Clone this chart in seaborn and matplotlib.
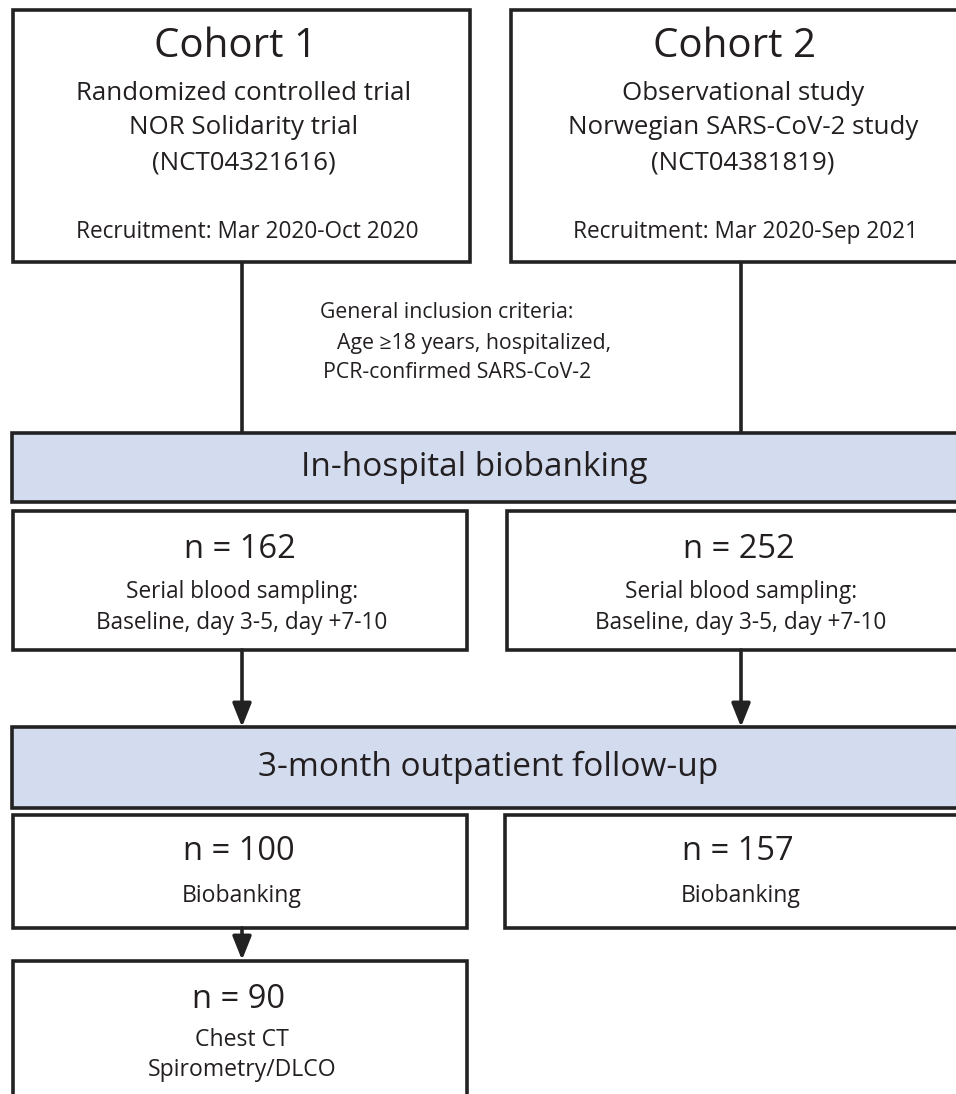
import matplotlib.pyplot as plt
import matplotlib.patches as mpatches
import seaborn as sns

sns.set_theme(style='white')
plt.rcParams['font.family'] = ['Open Sans', 'DejaVu Sans']

cohort_titles = ['Cohort 1', 'Cohort 2']
cohort_designs = [['Randomized controlled trial', 'NOR Solidarity trial', '(NCT04321616)'],
                  ['Observational study', 'Norwegian SARS-CoV-2 study', '(NCT04381819)']]
recruitment = ['Recruitment: Mar 2020-Oct 2020', 'Recruitment: Mar 2020-Sep 2021']
inclusion = ['General inclusion criteria:', 'Age \u226518 years, hospitalized,', 'PCR-confirmed SARS-CoV-2']
stages = ['In-hospital biobanking', '3-month outpatient follow-up']
n_hospital = [162, 252]
n_followup = [100, 157]
n_ct = [90]
hospital_note = ['Serial blood sampling:', 'Baseline, day 3-5, day +7-10']
followup_note = 'Biobanking'
ct_note = ['Chest CT', 'Spirometry/DLCO']

edge = '#222222'
blue = '#d3dcee'
txt = '#231f20'
lw = 2.6

fig = plt.figure(figsize=(9.56, 10.94), dpi=100)
ax = fig.add_axes([0, 0, 1, 1])
ax.set_xlim(0, 956)
ax.set_ylim(1094, 0)
ax.axis('off')


def box(x0, y0, x1, y1, fc='white'):
    ax.add_patch(mpatches.Rectangle((x0, y0), x1 - x0, y1 - y0, facecolor=fc,
                                    edgecolor=edge, linewidth=lw, zorder=2))


def arrow(x, y0, y1):
    ax.annotate('', xy=(x, y1), xytext=(x, y0),
                arrowprops=dict(arrowstyle='-|>,head_width=0.38,head_length=0.95', color=edge, lw=lw,
                                mutation_scale=15, shrinkA=0, shrinkB=0), zorder=3)


centers = [242, 741]

# cohort boxes
box(13, 10, 470, 262)
box(511, 10, 975, 262)
for i, cx in enumerate(centers):
    ax.text(cx - 6, 47, cohort_titles[i], fontsize=29, ha='center', va='center', color=txt)
    for j, line in enumerate(cohort_designs[i]):
        ax.text(cx + 2, 93 + 35 * j, line, fontsize=18.6, ha='center', va='center', color=txt)
    ax.text(cx + 5, 232, recruitment[i], fontsize=16.3, ha='center', va='center', color=txt)

# connectors to first stage
for cx in centers:
    ax.plot([cx, cx], [262, 433], color=edge, lw=lw, zorder=1)

for line, x, y in zip(inclusion, [320, 337, 323], [313, 343, 373]):
    ax.text(x, y, line, fontsize=15.3, ha='left', va='center', color=txt)

# stage 1 banner
box(12, 433, 980, 502, fc=blue)
ax.text(474, 467, stages[0], fontsize=24, ha='center', va='center', color=txt)

# in-hospital boxes
box(13, 511, 467, 650)
box(507, 511, 975, 650)
for i, cx in enumerate(centers):
    ax.text(cx - 2, 549, f'n = {n_hospital[i]}', fontsize=23.5, ha='center', va='center', color=txt)
    ax.text(cx, 592, hospital_note[0], fontsize=16.3, ha='center', va='center', color=txt)
    ax.text(cx, 623, hospital_note[1], fontsize=16.3, ha='center', va='center', color=txt)
    arrow(cx, 650, 727)

# stage 2 banner
box(12, 727, 980, 808, fc=blue)
ax.text(488, 767, stages[1], fontsize=24, ha='center', va='center', color=txt)

# follow-up boxes
box(13, 815, 467, 928)
box(505, 815, 975, 928)
for i, cx in enumerate(centers):
    ax.text(cx - 3, 852, f'n = {n_followup[i]}', fontsize=23.5, ha='center', va='center', color=txt)
    ax.text(cx, 896, followup_note, fontsize=16.6, ha='center', va='center', color=txt)

arrow(centers[0], 928, 960)

# CT box
box(13, 961, 467, 1110)
ax.text(centers[0] - 3, 999, f'n = {n_ct[0]}', fontsize=23.5, ha='center', va='center', color=txt)
ax.text(centers[0], 1040, ct_note[0], fontsize=16.6, ha='center', va='center', color=txt)
ax.text(centers[0], 1070, ct_note[1], fontsize=16.6, ha='center', va='center', color=txt)

fig.savefig('out.png', dpi=100, facecolor='white')
